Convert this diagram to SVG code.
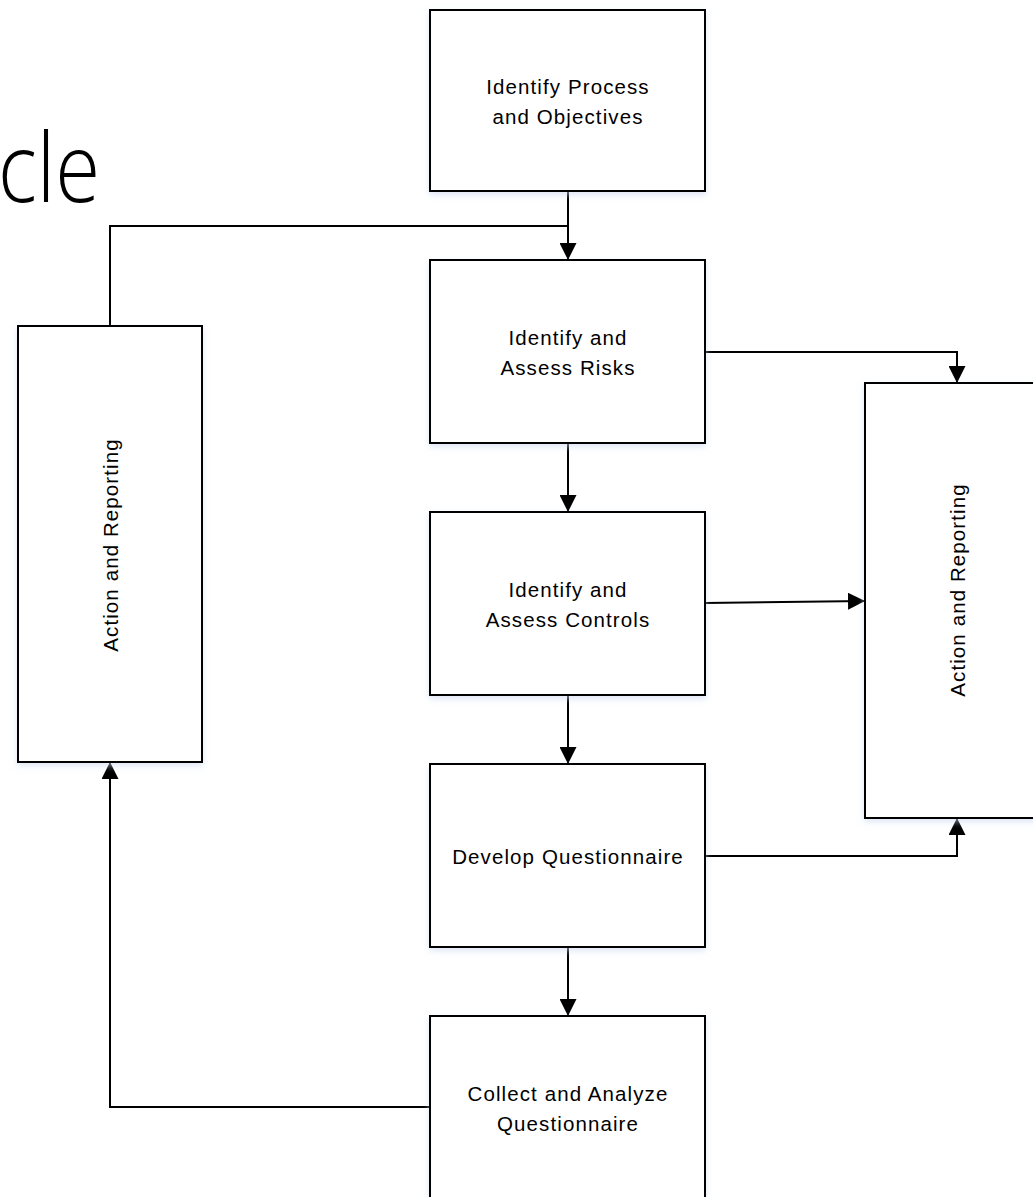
<svg xmlns="http://www.w3.org/2000/svg" width="1033" height="1197" viewBox="0 0 1033 1197">
<style>
.box{fill:#ffffff;stroke:#000000;stroke-width:2;filter:url(#sh);}
.lbl{font-family:"Liberation Sans",Arial,sans-serif;font-size:20.5px;letter-spacing:1.1px;fill:#000000;text-anchor:middle;}
.con{fill:none;stroke:#000000;stroke-width:2;}
.title{font-family:"Open Sans","Liberation Sans",sans-serif;font-weight:300;font-size:95px;fill:#000000;}
</style>
<defs>
<filter id="sh" x="-10%" y="-10%" width="120%" height="120%">
<feDropShadow dx="0" dy="3" stdDeviation="3" flood-color="#c9d6ee" flood-opacity="0.6"/>
</filter>
<marker id="ah" markerUnits="userSpaceOnUse" markerWidth="17" markerHeight="17" refX="17" refY="8.5" orient="auto">
<path d="M0,0 L17,8.5 L0,17 z" fill="#000000"/>
</marker>
</defs>
<rect width="1033" height="1197" fill="#ffffff"/>
<text class="title" transform="translate(-2,202) scale(0.86,1)" x="0" y="0">cle</text>
<g id="connectors">
<path class="con" d="M568,191 V260" marker-end="url(#ah)"/>
<path class="con" d="M110,326 V226 H568"/>
<path class="con" d="M705,352 H957 V383" marker-end="url(#ah)"/>
<path class="con" d="M568,443 V512" marker-end="url(#ah)"/>
<path class="con" d="M705,603 L865,601" marker-end="url(#ah)"/>
<path class="con" d="M568,695 V764" marker-end="url(#ah)"/>
<path class="con" d="M705,856 H957 V818" marker-end="url(#ah)"/>
<path class="con" d="M568,947 V1016" marker-end="url(#ah)"/>
<path class="con" d="M430,1107 H110 V762" marker-end="url(#ah)"/>
</g>
<g id="node-identify-process">
<rect class="box" x="430" y="10" width="275" height="181"/>
<text class="lbl" x="568" y="94">Identify Process</text>
<text class="lbl" x="568" y="124">and Objectives</text>
</g>
<g id="node-assess-risks">
<rect class="box" x="430" y="260" width="275" height="183"/>
<text class="lbl" x="568" y="345">Identify and</text>
<text class="lbl" x="568" y="375">Assess Risks</text>
</g>
<g id="node-assess-controls">
<rect class="box" x="430" y="512" width="275" height="183"/>
<text class="lbl" x="568" y="597">Identify and</text>
<text class="lbl" x="568" y="627">Assess Controls</text>
</g>
<g id="node-develop-questionnaire">
<rect class="box" x="430" y="764" width="275" height="183"/>
<text class="lbl" x="568" y="864">Develop Questionnaire</text>
</g>
<g id="node-collect-analyze">
<rect class="box" x="430" y="1016" width="275" height="183"/>
<text class="lbl" x="568" y="1101">Collect and Analyze</text>
<text class="lbl" x="568" y="1131">Questionnaire</text>
</g>
<g id="node-action-left">
<rect class="box" x="18" y="326" width="184" height="436"/>
<text class="lbl" transform="translate(118,545) rotate(-90)" x="0" y="0">Action and Reporting</text>
</g>
<g id="node-action-right">
<rect class="box" x="865" y="383" width="184" height="435"/>
<text class="lbl" transform="translate(965,590) rotate(-90)" x="0" y="0">Action and Reporting</text>
</g>
</svg>
